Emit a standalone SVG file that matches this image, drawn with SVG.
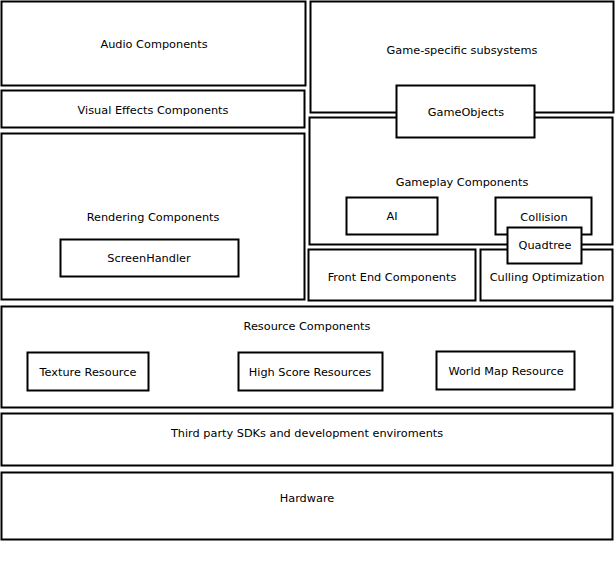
<svg xmlns="http://www.w3.org/2000/svg" width="616" height="578" viewBox="0 0 616 578">
<style>
rect{fill:#fff;stroke:#000;stroke-width:2}
text{font-family:"DejaVu Sans","Verdana",sans-serif;font-size:11.3px;text-anchor:middle;dominant-baseline:central;fill:#000}
</style>
<rect x="0" y="0" width="616" height="578" style="stroke:none"/>
<g id="audio"><rect x="1.5" y="1.5" width="304" height="84"/><text x="154" y="44">Audio Components</text></g>
<g id="vfx"><rect x="1.5" y="90.5" width="303" height="37"/><text x="153" y="110">Visual Effects Components</text></g>
<g id="rendering"><rect x="1.5" y="133.5" width="303" height="166"/><text x="153" y="217">Rendering Components</text></g>
<g id="screenhandler"><rect x="60.5" y="239.5" width="178" height="37"/><text x="149" y="258">ScreenHandler</text></g>
<g id="gamespecific"><rect x="310.5" y="1.5" width="303" height="111"/><text x="462" y="50">Game-specific subsystems</text></g>
<g id="gameplay"><rect x="309.5" y="117.5" width="303" height="127"/><text x="462" y="182">Gameplay Components</text></g>
<g id="gameobjects"><rect x="396.5" y="85.5" width="138" height="52"/><text x="466" y="112">GameObjects</text></g>
<g id="ai"><rect x="346.5" y="197.5" width="91" height="37"/><text x="392" y="216">AI</text></g>
<g id="collision"><rect x="495.5" y="197.5" width="96" height="37"/><text x="544" y="217">Collision</text></g>
<g id="frontend"><rect x="308.5" y="249.5" width="167" height="51"/><text x="392" y="277">Front End Components</text></g>
<g id="culling"><rect x="480.5" y="249.5" width="132" height="51"/><text x="547" y="277">Culling Optimization</text></g>
<g id="quadtree"><rect x="507.5" y="227.5" width="74" height="36"/><text x="545" y="245">Quadtree</text></g>
<g id="resource"><rect x="1.5" y="306.5" width="611" height="101"/><text x="307" y="326">Resource Components</text></g>
<g id="texture"><rect x="27.5" y="352.5" width="121" height="38"/><text x="88" y="372">Texture Resource</text></g>
<g id="highscore"><rect x="238.5" y="352.5" width="144" height="38"/><text x="310" y="372">High Score Resources</text></g>
<g id="worldmap"><rect x="436.5" y="351.5" width="138" height="38"/><text x="506" y="371">World Map Resource</text></g>
<g id="thirdparty"><rect x="1.5" y="413.5" width="611" height="52"/><text x="307" y="433">Third party SDKs and development enviroments</text></g>
<g id="hardware"><rect x="1.5" y="472.5" width="611" height="67"/><text x="307" y="498">Hardware</text></g>
<g id="connectors"></g>
</svg>
